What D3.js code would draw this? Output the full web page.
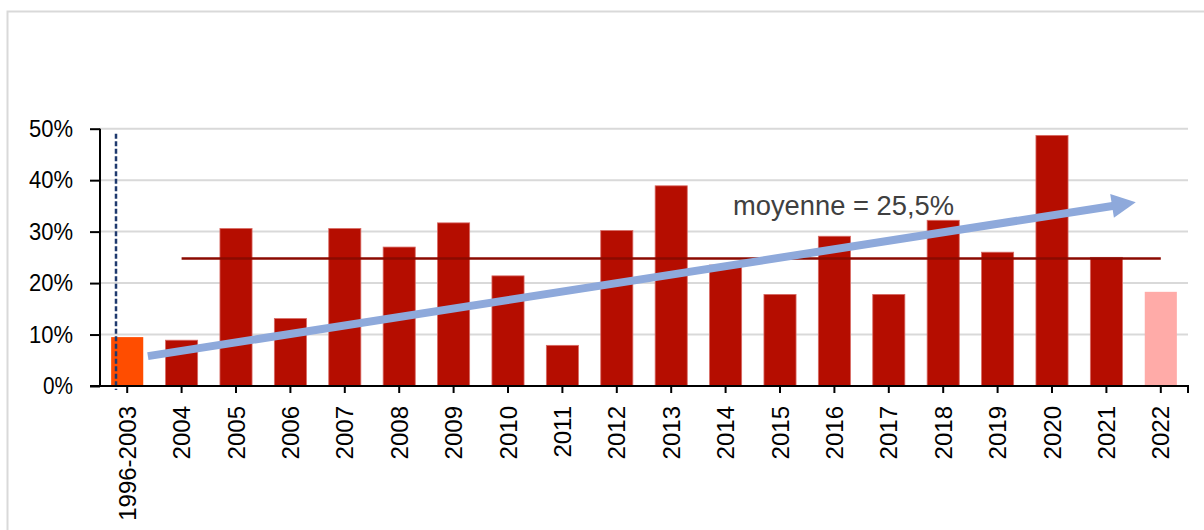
<!DOCTYPE html>
<html>
<head>
<meta charset="utf-8">
<script src="https://cdn.jsdelivr.net/npm/d3@7"></script>
<style>
  body { margin: 0; background: #fff; }
  text { font-family: 'Liberation Sans', Arial, sans-serif; }
</style>
</head>
<body>
<svg id="viz" width="1204" height="530"></svg>
<script>
var categories = [ '1996-2003', '2004', '2005', '2006', '2007', '2008', '2009', '2010', '2011', '2012',
	'2013', '2014', '2015', '2016', '2017', '2018', '2019', '2020', '2021', '2022' ];
var values = [ 0.095, 0.089, 0.306, 0.131, 0.306, 0.270, 0.317, 0.214, 0.079, 0.302,
	0.389, 0.235, 0.178, 0.291, 0.178, 0.322, 0.260, 0.487, 0.250, 0.183 ];
var yTicks = [ 0, 0.1, 0.2, 0.3, 0.4, 0.5 ];
var meanValue = 0.248;
var meanLabel = 'moyenne = 25,5%';
// trend arrow, start / end as (category index, value)
var trendStart = [ 0.38, 0.058 ];
var trendEnd = [ 18.54, 0.357 ];

var colors = {
	bar: '#B50D00',
	first: '#FF4D00',
	last: '#FFABA8',
	mean: '#8B0A00',
	trend: '#8EA9DB',
	grid: '#D9D9D9',
	dash: '#1F3A6E'
};

var svg = d3.select( '#viz' );

// outer frame
svg.append( 'rect' )
	.attr( 'x', 7.5 ).attr( 'y', 11.5 )
	.attr( 'width', 1300 ).attr( 'height', 600 )
	.attr( 'fill', 'none' )
	.attr( 'stroke', colors.grid )
	.attr( 'stroke-width', 2 );

var plotLeft = 100, plotRight = 1188, plotTop = 128.7, plotBottom = 386;

var xScale = d3.scaleBand()
	.domain( categories )
	.range( [ plotLeft, plotRight ] )
	.paddingInner( 0.41 )
	.paddingOuter( 0.205 );

var idxScale = d3.scaleLinear()
	.domain( [ 0, categories.length - 1 ] )
	.range( [ xScale( categories[0] ) + xScale.bandwidth() / 2,
		xScale( categories[categories.length - 1] ) + xScale.bandwidth() / 2 ] );

var yScale = d3.scaleLinear()
	.domain( [ 0, 0.5 ] )
	.range( [ plotBottom, plotTop ] );

// gridlines
svg.append( 'g' ).selectAll( 'line' )
	.data( yTicks.slice( 1 ) )
	.enter()
	.append( 'line' )
	.attr( 'x1', plotLeft ).attr( 'x2', plotRight )
	.attr( 'y1', function ( d ) { return yScale( d ); } )
	.attr( 'y2', function ( d ) { return yScale( d ); } )
	.attr( 'stroke', colors.grid )
	.attr( 'stroke-width', 2 );

// bars
svg.append( 'g' ).selectAll( 'rect' )
	.data( values )
	.enter()
	.append( 'rect' )
	.attr( 'x', function ( d, i ) { return xScale( categories[i] ); } )
	.attr( 'y', function ( d ) { return yScale( d ); } )
	.attr( 'width', xScale.bandwidth() )
	.attr( 'height', function ( d ) { return plotBottom - yScale( d ); } )
	.attr( 'fill', function ( d, i ) {
		if ( i === 0 ) return colors.first;
		if ( i === categories.length - 1 ) return colors.last;
		return colors.bar;
	} )
	.attr( 'stroke', function ( d, i ) {
		return i === 0 || i === categories.length - 1 ? 'none' : '#D86A64';
	} )
	.attr( 'stroke-width', 0.8 );

// mean line
svg.append( 'line' )
	.attr( 'x1', idxScale( 1 ) ).attr( 'x2', idxScale( categories.length - 1 ) )
	.attr( 'y1', yScale( meanValue ) ).attr( 'y2', yScale( meanValue ) )
	.attr( 'stroke', colors.mean )
	.attr( 'stroke-width', 2.5 );

// dashed separator
var dashX = Math.round( xScale( categories[0] ) + 5 );
svg.append( 'line' )
	.attr( 'x1', dashX ).attr( 'x2', dashX )
	.attr( 'y1', yScale( 0.49 ) ).attr( 'y2', plotBottom + 4 )
	.attr( 'stroke', colors.dash )
	.attr( 'stroke-width', 2.5 )
	.attr( 'stroke-dasharray', '5,2.5' );

// axes
var yAxis = svg.append( 'g' )
	.attr( 'transform', 'translate(' + plotLeft + ',0)' )
	.call( d3.axisLeft( yScale ).tickValues( yTicks ).tickSize( 10 ).tickPadding( 17 )
		.tickFormat( function ( d ) { return Math.round( d * 100 ) + '%'; } ) );
yAxis.select( '.domain' ).attr( 'stroke', '#000' ).attr( 'stroke-width', 2 )
	.attr( 'd', 'M0,' + plotBottom + 'V' + plotTop );
yAxis.selectAll( '.tick line' ).attr( 'stroke', '#000' ).attr( 'stroke-width', 2 );
yAxis.selectAll( 'text' )
	.attr( 'font-size', 24 )
	.attr( 'font-family', "'Liberation Sans', Arial, sans-serif" )
	.attr( 'fill', '#000' )
	.attr( 'textLength', function ( d ) { return d === 0 ? 30 : 44; } )
	.attr( 'lengthAdjust', 'spacingAndGlyphs' );

var xAxis = svg.append( 'g' )
	.attr( 'transform', 'translate(0,' + plotBottom + ')' )
	.call( d3.axisBottom( xScale ).tickSize( 7 ).tickSizeOuter( 0 ) );
xAxis.select( '.domain' ).attr( 'stroke', '#000' ).attr( 'stroke-width', 2 )
	.attr( 'd', 'M' + ( plotLeft - 10 ) + ',0H' + plotRight + 'V7' );
xAxis.selectAll( '.tick line' ).attr( 'stroke', '#000' ).attr( 'stroke-width', 2 );
xAxis.selectAll( 'text' )
	.attr( 'font-size', 24 )
	.attr( 'font-family', "'Liberation Sans', Arial, sans-serif" )
	.attr( 'fill', '#000' )
	.attr( 'text-anchor', 'end' )
	.attr( 'dy', null )
	.attr( 'y', 0 )
	.attr( 'transform', 'translate(8.5,20) rotate(-90)' );

// trend arrow
var x0 = idxScale( trendStart[0] ), y0 = yScale( trendStart[1] );
var x1 = idxScale( trendEnd[0] ), y1 = yScale( trendEnd[1] );
var ang = Math.atan2( y1 - y0, x1 - x0 );
var headLen = 24, headHalf = 12;
var bx = x1 - headLen * Math.cos( ang ), by = y1 - headLen * Math.sin( ang );
svg.append( 'line' )
	.attr( 'x1', x0 ).attr( 'y1', y0 )
	.attr( 'x2', bx + 2 * Math.cos( ang ) ).attr( 'y2', by + 2 * Math.sin( ang ) )
	.attr( 'stroke', colors.trend )
	.attr( 'stroke-width', 8 );
svg.append( 'polygon' )
	.attr( 'points', [
		[ x1, y1 ],
		[ bx - headHalf * Math.sin( ang ), by + headHalf * Math.cos( ang ) ],
		[ bx + headHalf * Math.sin( ang ), by - headHalf * Math.cos( ang ) ]
	].map( function ( p ) { return p.join( ',' ); } ).join( ' ' ) )
	.attr( 'fill', colors.trend );

// mean label
svg.append( 'text' )
	.attr( 'x', 733 )
	.attr( 'y', 215 )
	.attr( 'font-size', 28 )
	.attr( 'fill', '#404040' )
	.attr( 'textLength', 221 )
	.attr( 'lengthAdjust', 'spacingAndGlyphs' )
	.text( meanLabel );
</script>
</body>
</html>
